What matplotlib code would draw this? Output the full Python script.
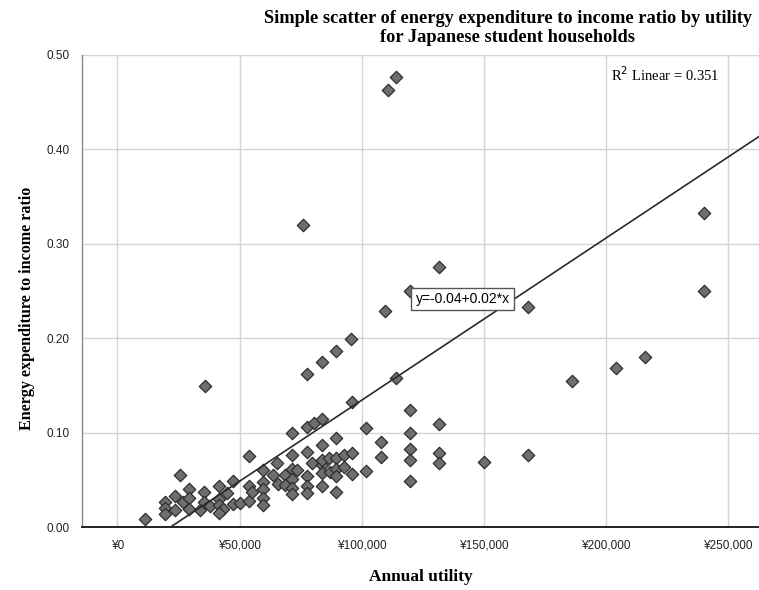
import matplotlib.pyplot as plt
from matplotlib.ticker import FuncFormatter

# -------------------------------------------------------------------------
# DATA
# -------------------------------------------------------------------------
annual_utility = [
    11500, 25700, 29500, 35500, 41400, 47500, 53700, 19600, 23700, 26800,
    29500, 19600, 23700, 19600, 29500, 33900, 35500, 38000, 41400, 44800,
    41400, 43400, 41400, 47500, 50300, 53700, 53700, 55100, 59600, 59600,
    59600, 59600, 59600, 65300, 63700, 65600, 68700, 68700, 71500, 71500,
    71500, 71500, 71500, 71500, 73500, 77600, 77600, 77600, 77600, 77600,
    77600, 80300, 79700, 83800, 83800, 83800, 83800, 83800, 83800, 86500,
    87200, 89600, 89600, 89600, 89600, 89600, 89600, 92600, 92600, 95800,
    96100, 96100, 96100, 83800, 36000, 76000, 101900, 101900, 107700, 107700,
    119700, 119700, 119700, 119700, 119700, 131800, 131800, 131800, 150000, 168000,
    168000, 185900, 204000, 215800, 240100, 240100, 114100, 110800, 131700, 109700,
    119700, 114100,
]
energy_ratio = [
    0.009, 0.055, 0.041, 0.037, 0.044, 0.049, 0.075, 0.027, 0.033, 0.027,
    0.031, 0.020, 0.018, 0.014, 0.019, 0.018, 0.027, 0.022, 0.030, 0.036,
    0.024, 0.019, 0.015, 0.025, 0.026, 0.044, 0.028, 0.037, 0.061, 0.048,
    0.040, 0.031, 0.024, 0.068, 0.055, 0.046, 0.055, 0.045, 0.100, 0.076,
    0.062, 0.051, 0.042, 0.035, 0.061, 0.162, 0.106, 0.080, 0.054, 0.044,
    0.036, 0.110, 0.068, 0.115, 0.087, 0.066, 0.057, 0.044, 0.071, 0.073,
    0.058, 0.187, 0.094, 0.073, 0.062, 0.054, 0.037, 0.077, 0.064, 0.199,
    0.133, 0.079, 0.056, 0.175, 0.150, 0.320, 0.105, 0.060, 0.090, 0.074,
    0.124, 0.100, 0.083, 0.071, 0.049, 0.109, 0.079, 0.068, 0.069, 0.077,
    0.233, 0.155, 0.169, 0.180, 0.333, 0.250, 0.476, 0.463, 0.275, 0.229,
    0.250, 0.158,
]

FIT_INTERCEPT = -0.0371
FIT_SLOPE = 1.716e-6
R2_LINEAR = 0.351

x_ticks = [0, 50000, 100000, 150000, 200000, 250000]
y_ticks = [0.0, 0.1, 0.2, 0.3, 0.4, 0.5]

SERIF = "Liberation Serif"
SANS = "Liberation Sans"

# -------------------------------------------------------------------------
# PLOT
# -------------------------------------------------------------------------
fig = plt.figure(figsize=(7.59, 5.90), dpi=100)
ax = fig.add_axes([0.1076, 0.1063, 0.8924, 0.8008])

x_min, x_max = -14600, 262600
ax.set_xlim(x_min, x_max)
ax.set_ylim(0, 0.5)

ax.set_xticks(x_ticks)
ax.set_yticks(y_ticks)
ax.xaxis.set_major_formatter(FuncFormatter(lambda v, _: f"¥{int(v):,}"))
ax.yaxis.set_major_formatter(FuncFormatter(lambda v, _: f"{v:.2f}"))
ax.tick_params(length=0, labelsize=8.5, pad=9)
for lbl in ax.get_xticklabels() + ax.get_yticklabels():
    lbl.set_fontfamily(SANS)
    lbl.set_color("#222222")

ax.grid(True, color="#d4d4d4", linewidth=1.0)
ax.set_axisbelow(True)

for side in ["top", "right"]:
    ax.spines[side].set_visible(False)
ax.spines["left"].set_color("#888888")
ax.spines["left"].set_linewidth(1.0)
ax.spines["bottom"].set_color("#111111")
ax.spines["bottom"].set_linewidth(1.3)

ax.scatter(annual_utility, energy_ratio, marker="D", s=40,
           facecolor="#6e6e6e", edgecolor="#2e2e2e", linewidth=0.9, zorder=3)

# fit line
line_x = [x_min, x_max]
line_y = [FIT_INTERCEPT + FIT_SLOPE * v for v in line_x]
ax.plot(line_x, line_y, color="#2a2a2a", linewidth=1.2, zorder=4)

ax.text(141300, 0.2416, "y=-0.04+0.02*x", family=SANS, fontsize=10,
        ha="center", va="center", zorder=5,
        bbox=dict(boxstyle="square,pad=0.3", facecolor="white",
                  edgecolor="#555555", linewidth=1.0))

ax.text(202200, 0.479, f"R$^2$ Linear = {R2_LINEAR}", family=SERIF,
        fontsize=10.5, ha="left", va="center")

fig.text(0.669, 1 - 28 / 590, "Simple scatter of energy expenditure to income ratio by utility\n"
         "for Japanese student households", family=SERIF, fontweight="bold",
         fontsize=13.2, ha="center", va="center", linespacing=1.18)

fig.text(421 / 759, 1 - 577 / 590, "Annual utility", family=SERIF,
         fontweight="bold", fontsize=12.5, ha="center", va="center")
fig.text(27 / 759, 1 - 308 / 590, "Energy expenditure to income ratio",
         family=SERIF, fontweight="bold", fontsize=11.6, rotation=90,
         ha="center", va="center")

fig.savefig("out.png", dpi=100)
